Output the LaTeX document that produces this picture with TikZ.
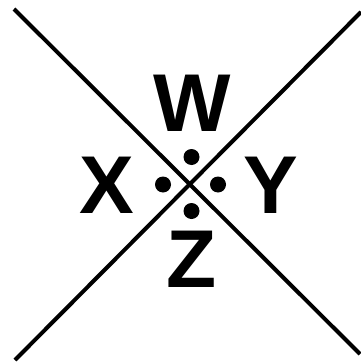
\documentclass[tikz,border=0pt]{standalone}
\usepackage{fontspec}
\setmainfont{Liberation Sans}
\usepackage{tikz}
\usetikzlibrary{positioning, calc}

\begin{document}
\begin{tikzpicture}[
  x=1pt, y=-1pt,
  letter/.style={inner sep=0pt, anchor=base, font=\fontsize{82}{82}\selectfont\bfseries},
  dot/.style={circle, fill=black, inner sep=0pt, minimum size=16pt},
  diag/.style={line width=4pt}
]
  \useasboundingbox (0,0) rectangle (361,364);

  % ends of the two diagonals
  \coordinate (tl) at (14,9);
  \coordinate (br) at (360,354);
  \coordinate (tr) at (361,12);
  \coordinate (bl) at (15,360);

  \draw[diag] (tl) -- (br);
  \draw[diag] (bl) -- (tr);

  % letters
  \node[letter] (w) at (192,131) {W};
  \node[letter] (x) at (107,213) {X};
  \node[letter] (y) at (271,213) {Y};
  \node[letter] (z) at (191.5,287) {Z};

  % dots round the crossing
  \node[dot] (dw) at (191.5,157) {};
  \node[dot] (dx) at (163,184.5) {};
  \node[dot] (dy) at (218,184.5) {};
  \node[dot] (dz) at (191.5,211) {};
\end{tikzpicture}
\end{document}
